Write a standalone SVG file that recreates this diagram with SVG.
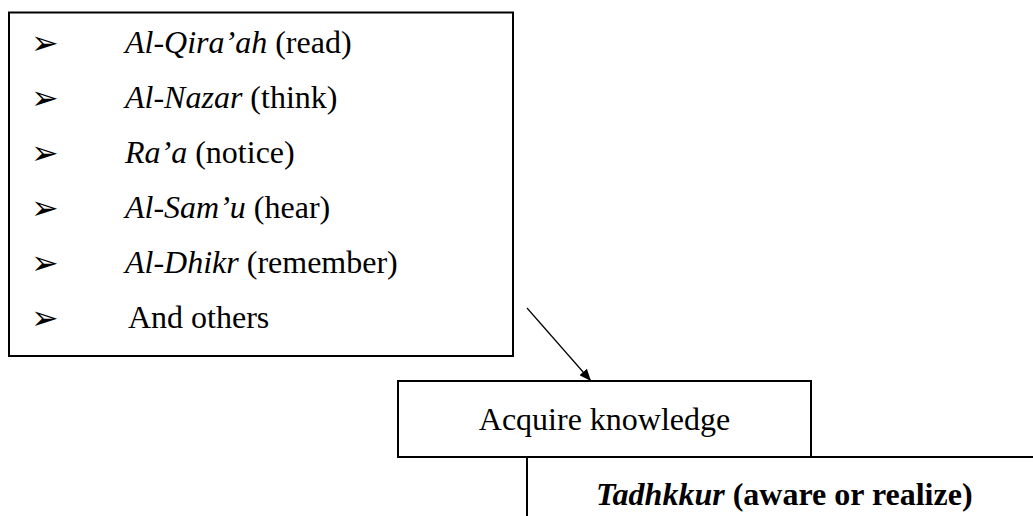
<svg xmlns="http://www.w3.org/2000/svg" width="1033" height="516" viewBox="0 0 1033 516">
<style>
.box{fill:#fff;stroke:#000;stroke-width:2}
.t{font-family:"Liberation Serif","Times New Roman",serif;font-size:32px;fill:#000}
.b{font-family:"DejaVu Sans",sans-serif;font-size:33px;fill:#000}
.conn{stroke:#000;stroke-width:1.2;fill:none}
</style>
<defs>
<marker id="ah" viewBox="0 0 12 10" refX="12" refY="5" markerWidth="12" markerHeight="10" markerUnits="userSpaceOnUse" orient="auto">
<path d="M0,0 L12,5 L0,10 z" fill="#000"/>
</marker>
</defs>
<rect width="1033" height="516" fill="#fff"/>
<g id="methods">
<rect class="box" x="9" y="12.5" width="504" height="343.5"/>
<text class="b" x="31" y="54">➢</text>
<text class="t" x="125" y="53"><tspan font-style="italic">Al-Qira’ah</tspan> (read)</text>
<text class="b" x="31" y="109">➢</text>
<text class="t" x="125" y="108"><tspan font-style="italic">Al-Nazar</tspan> (think)</text>
<text class="b" x="31" y="164">➢</text>
<text class="t" x="125" y="163"><tspan font-style="italic">Ra’a</tspan> (notice)</text>
<text class="b" x="31" y="219">➢</text>
<text class="t" x="125" y="218"><tspan font-style="italic">Al-Sam’u</tspan> (hear)</text>
<text class="b" x="31" y="274">➢</text>
<text class="t" x="125" y="273"><tspan font-style="italic">Al-Dhikr</tspan> (remember)</text>
<text class="b" x="31" y="329">➢</text>
<text class="t" x="128" y="328">And others</text>
</g>
<g id="tadhkkur">
<rect class="box" x="527" y="457" width="520" height="80"/>
<text class="t" x="596" y="505" font-weight="bold"><tspan font-style="italic">Tadhkkur</tspan> (aware or realize)</text>
</g>
<g id="acquire">
<rect class="box" x="398" y="381" width="413" height="76"/>
<text class="t" x="604.5" y="430" text-anchor="middle">Acquire knowledge</text>
</g>
<g id="connectors">
<line class="conn" x1="527" y1="308" x2="591" y2="381" marker-end="url(#ah)"/>
</g>
</svg>
